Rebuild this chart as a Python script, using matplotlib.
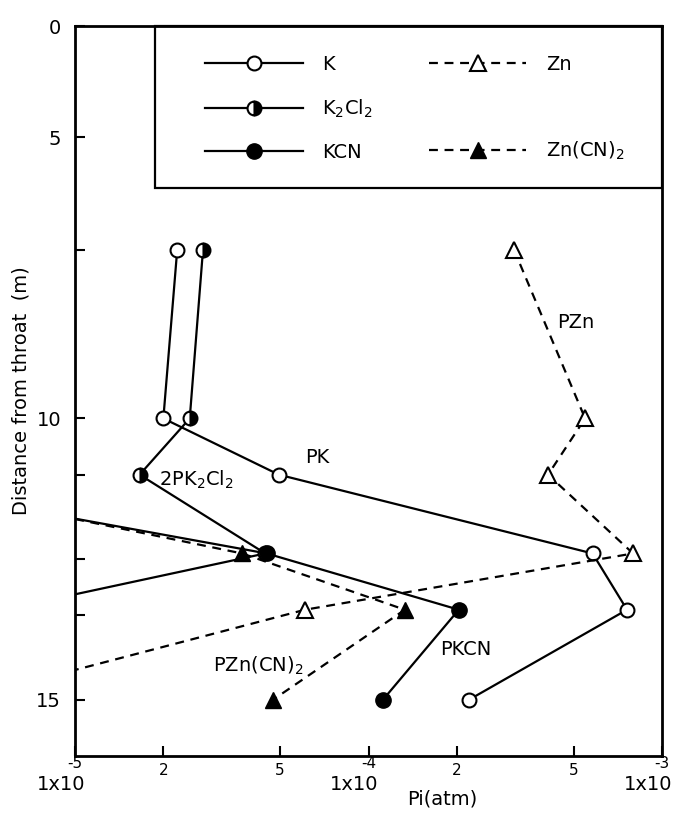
import numpy as np
import matplotlib
matplotlib.use('Agg')
import matplotlib.pyplot as plt
import matplotlib.transforms as mtransforms
from matplotlib.lines import Line2D
from matplotlib.patches import Rectangle

# distance from throat (m) vs partial pressure Pi (atm)
# points left of 1e-5 are off the chart, only their lines show
k_dist = [7, 10, 11, 12.4, 13.4, 15]
k_p = [2.23e-5, 2.0e-5, 4.95e-5, 5.8e-4, 7.6e-4, 2.2e-4]

k2cl2_dist = [7, 10, 11, 12.4, 13.4]
k2cl2_p = [2.73e-5, 2.46e-5, 1.66e-5, 4.45e-5, 5.7e-6]

kcn_dist = [11, 12.4, 13.4, 15]
kcn_p = [1.5e-6, 4.5e-5, 2.03e-4, 1.12e-4]

zn_dist = [7, 10, 11, 12.4, 13.4, 15]
zn_p = [3.13e-4, 5.47e-4, 4.09e-4, 7.97e-4, 6.08e-5, 4.1e-6]

zncn_dist = [11, 12.4, 13.4, 15]
zncn_p = [1.85e-6, 3.71e-5, 1.33e-4, 4.73e-5]

decade_ticks = [1e-5, 1e-4, 1e-3]
decade_exps = ['-5', '-4', '-3']
minor_ticks = [2e-5, 5e-5, 2e-4, 5e-4]
minor_labels = ['2', '5', '2', '5']
dist_ticks = [0, 5, 10, 15]
station_ticks = [7, 11, 12.5, 13.5]

plt.rcParams['font.family'] = 'DejaVu Sans'
plt.rcParams['mathtext.fontset'] = 'dejavusans'

fig = plt.figure(figsize=(6.77, 8.19), dpi=100)
ax = fig.add_axes([75/677, 1 - 756/819, 587/677, 730/819])

# the y axis is squeezed between 0 and 5 m, linear below that
def fwd(y):
    y = np.asarray(y, float)
    return np.where(y < 5, y * 22.2, 111 + (y - 5) * 56.2)

def inv(s):
    s = np.asarray(s, float)
    return np.where(s < 111, s / 22.2, 5 + (s - 111) / 56.2)

ax.set_xscale('log')
ax.set_yscale('function', functions=(fwd, inv))

lw = 1.6
dash = (4, 3)
ms = 10

ax.plot(k_p, k_dist, '-', color='k', lw=lw, marker='o', ms=ms,
        mfc='white', mec='k', mew=1.5, zorder=3)
ax.plot(k2cl2_p, k2cl2_dist, '-', color='k', lw=lw, marker='o', ms=ms,
        fillstyle='right', mfc='k', markerfacecoloralt='white', mec='k', mew=1.5, zorder=3)
ax.plot(kcn_p, kcn_dist, '-', color='k', lw=lw, marker='o', ms=ms + 1,
        mfc='k', mec='k', zorder=3)
ax.plot(zn_p, zn_dist, color='k', lw=lw, dashes=dash, marker='^', ms=ms + 1,
        mfc='white', mec='k', mew=1.5, zorder=3)
ax.plot(zncn_p, zncn_dist, color='k', lw=lw, dashes=dash, marker='^', ms=ms + 1,
        mfc='k', mec='k', zorder=3)

ax.set_xlim(1e-5, 1e-3)
ax.set_ylim(16, 0)

# x ticks: exponent sits right under the axis, "1x10" below it
ax.set_xticks(decade_ticks)
ax.set_xticklabels(decade_exps)
ax.set_xticks(minor_ticks, minor=True)
ax.set_xticklabels(minor_labels, minor=True)
ax.tick_params(axis='x', which='major', direction='in', length=7, width=1.5,
               labelsize=11, pad=0)
ax.tick_params(axis='x', which='minor', direction='in', length=7, width=1.5,
               labelsize=11, pad=5)
base = mtransforms.blended_transform_factory(ax.transData, ax.transAxes)
for t in decade_ticks:
    tr = mtransforms.offset_copy(base, fig=fig, x=10, y=-28, units='dots')
    ax.text(t, 0, '1x10', transform=tr, ha='right', va='center', fontsize=14)

# y ticks
ax.set_yticks(dist_ticks)
ax.set_yticklabels([str(v) for v in dist_ticks])
ax.set_yticks(station_ticks, minor=True)
ax.tick_params(axis='y', which='both', direction='in', length=7, width=1.5,
               labelsize=14, pad=10)

for sp in ax.spines.values():
    sp.set_linewidth(2)

ax.set_xlabel('Pi(atm)', fontsize=14)
ax.xaxis.set_label_coords(0.625, -0.046)
ax.set_ylabel('Distance from throat  (m)', fontsize=14)
ax.yaxis.set_label_coords(-0.075, 0.5)

# curve labels
ax.text(5.1e-4, 8.3, 'PZn', fontsize=14, ha='center', va='center')
ax.text(6.7e-5, 10.7, 'PK', fontsize=14, ha='center', va='center')
ax.text(2.6e-5, 11.1, r'2PK$_2$Cl$_2$', fontsize=14, ha='center', va='center')
ax.text(4.2e-5, 14.4, r'PZn(CN)$_2$', fontsize=14, ha='center', va='center')
ax.text(2.15e-4, 14.1, 'PKCN', fontsize=14, ha='center', va='center')

# legend box
ax.add_patch(Rectangle((0.136, 0.778), 0.864, 0.222, transform=ax.transAxes,
                       fill=False, lw=1.6, ec='k', clip_on=False))
handles = [
    Line2D([], [], color='k', lw=lw, marker='o', ms=ms, mfc='white', mec='k', mew=1.5),
    Line2D([], [], color='k', lw=lw, marker='o', ms=ms, fillstyle='right', mfc='k',
           markerfacecoloralt='white', mec='k', mew=1.5),
    Line2D([], [], color='k', lw=lw, marker='o', ms=ms + 1, mfc='k', mec='k'),
    Line2D([], [], color='k', lw=lw, dashes=dash, marker='^', ms=ms + 1, mfc='white',
           mec='k', mew=1.5),
    Line2D([], [], ls='none'),
    Line2D([], [], color='k', lw=lw, dashes=dash, marker='^', ms=ms + 1, mfc='k', mec='k'),
]
labels = ['K', r'K$_2$Cl$_2$', 'KCN', 'Zn', ' ', r'Zn(CN)$_2$']
ax.legend(handles, labels, ncol=2, loc='upper left', bbox_to_anchor=(0.222, 0.96),
          frameon=False, fontsize=14, handlelength=5, handletextpad=1.0,
          labelspacing=1.2, columnspacing=2.9, borderaxespad=0, borderpad=0)

fig.savefig('out.png', dpi=100)
